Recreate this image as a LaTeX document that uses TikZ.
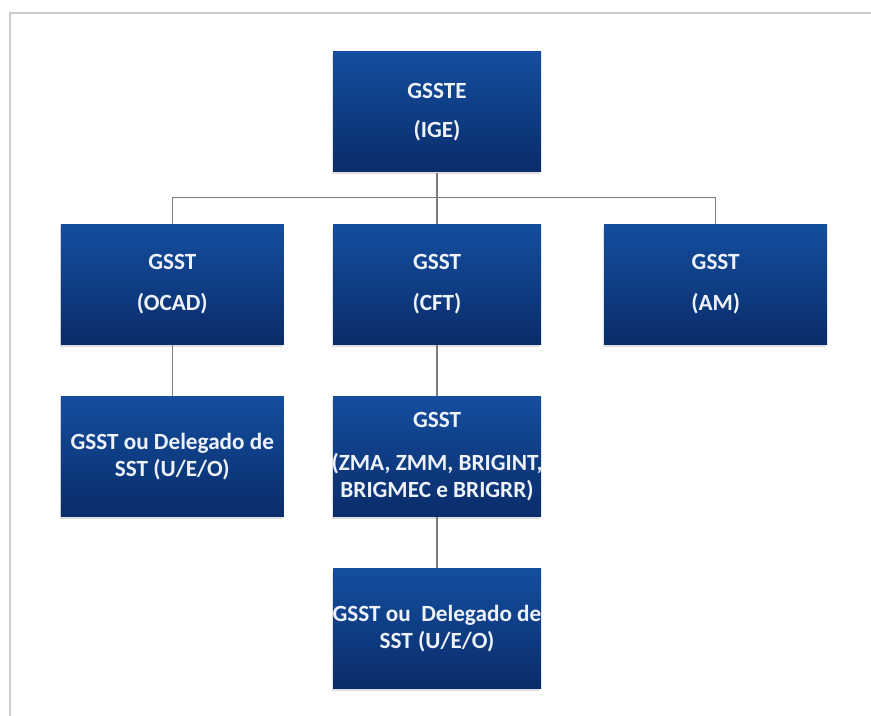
\documentclass[tikz,border=0pt]{standalone}
\usepackage{fontspec}
\setmainfont{Carlito}
\usepackage{tikz}
\usetikzlibrary{positioning,shapes,shadows}
\definecolor{boxtop}{RGB}{20,78,158}
\definecolor{boxbot}{RGB}{10,44,106}
\definecolor{linegray}{RGB}{125,125,125}
\definecolor{framegray}{RGB}{205,205,205}
\definecolor{boxtext}{RGB}{238,242,250}

\begin{document}
\begin{tikzpicture}[semithick, node distance=25.5pt,
  main/.style={rectangle, top color=boxtop, bottom color=boxbot, draw=none, text=boxtext,
    font=\fontsize{11.6}{13.6}\selectfont\bfseries, align=center, inner xsep=0pt, inner ysep=1pt,
    minimum width=104pt, minimum height=60pt,
    drop shadow={shadow xshift=-0.6pt, shadow yshift=-1.2pt, opacity=0.25}},
  side/.style={main, minimum width=111.5pt},
  link/.style={draw=linegray, line width=0.7pt}]
    \useasboundingbox (0,0) rectangle (435.5pt,-358pt);
    \draw[framegray, line width=1pt] (4.75pt,-358pt) -- (4.75pt,-6.5pt) -- (435.5pt,-6.5pt);

    \node[main] (ige) at (218.5pt,-56pt) {GSSTE\\[6pt](IGE)};
    \node[main] (cft) [below=of ige] {GSST\\[7pt](CFT)};
    \node[side] (ocad) [left=24pt of cft] {GSST\\[7pt](OCAD)};
    \node[side] (am) [right=31pt of cft] {GSST\\[7pt](AM)};
    \node[side] (ueo1) [below=of ocad] {GSST ou Delegado de\\SST (U/E/O)};
    \node[main] (zma) [below=of cft] {GSST\\[8pt]\makebox[104pt]{(ZMA, ZMM, BRIGINT,}\\\makebox[104pt]{BRIGMEC e BRIGRR)}};
    \node[main] (ueo2) [below=of zma] {\makebox[104pt]{GSST ou~ Delegado de}\\SST (U/E/O)};

    \draw[link] (ige) -- ++(0,-42.75pt) coordinate (bus);
    \draw[link] (ocad.north) |- (bus) -| (am.north);
    \draw[link] (bus) -- (cft);
    \draw[link] (ocad) -- (ueo1);
    \draw[link] (cft) -- (zma);
    \draw[link] (zma) -- (ueo2);
\end{tikzpicture}
\end{document}
